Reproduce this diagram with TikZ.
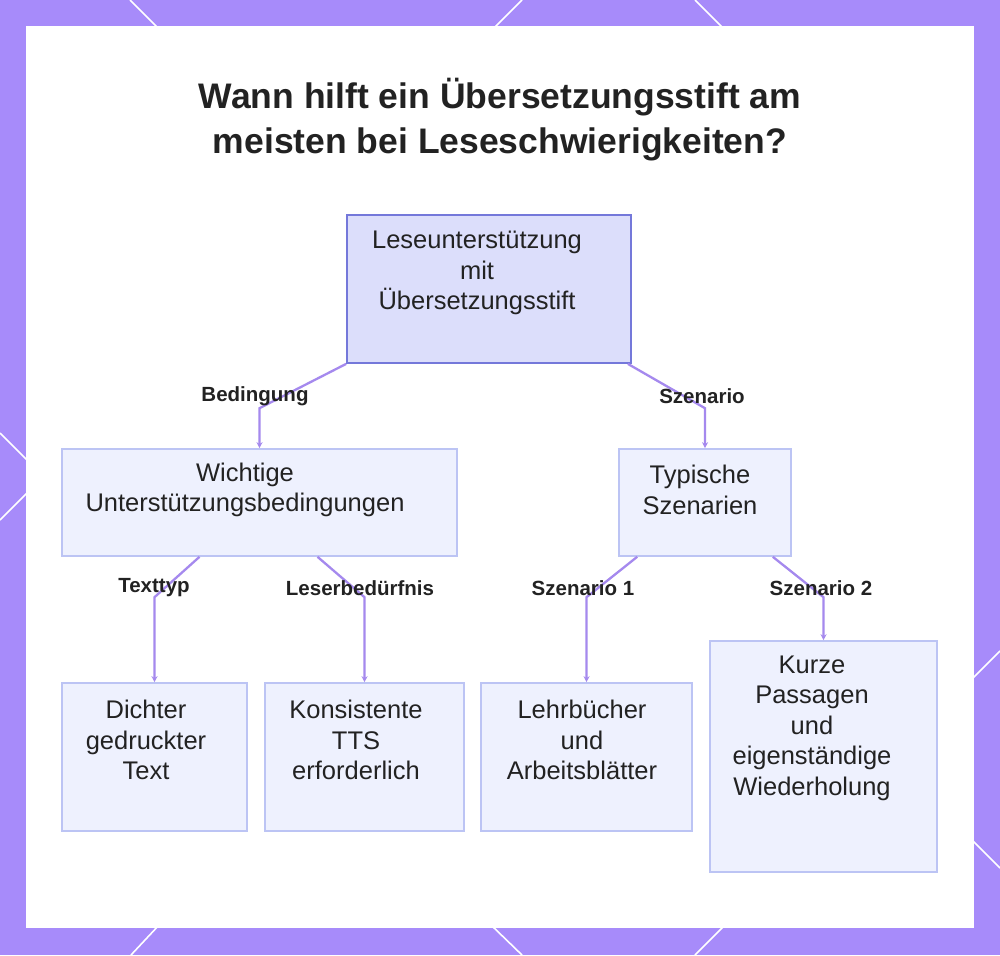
\documentclass[tikz,border=0pt]{standalone}
\usepackage{fontspec}
\setmainfont{Liberation Sans}
\usetikzlibrary{arrows.meta,positioning}
\definecolor{framec}{HTML}{A78BFA}
\definecolor{rootfill}{HTML}{DCDEFB}
\definecolor{rootline}{HTML}{7478DA}
\definecolor{boxfill}{HTML}{EEF1FE}
\definecolor{boxline}{HTML}{BCC4F4}
\definecolor{ink}{HTML}{222222}
\definecolor{connc}{HTML}{A589EE}

\begin{document}
\begin{tikzpicture}[x=1pt, y=-1pt,
    topbox/.style={draw=rootline, fill=rootfill, line width=1.8pt, inner sep=0pt},
    subbox/.style={draw=boxline, fill=boxfill, line width=1.6pt, inner sep=0pt},
    txt/.style={align=center, text=ink, font=\fontsize{25.5}{30.5}\selectfont, inner sep=0pt},
    lbl/.style={text=ink, font=\bfseries\fontsize{20.5}{24}\selectfont, inner sep=0pt},
    conn/.style={draw=connc, line width=2.3pt, -{Stealth[length=6pt,width=6pt]}},
    deco/.style={white, line width=1.6pt}]
  \useasboundingbox (0,0) rectangle (1000,955);
  \fill[framec] (0,0) rectangle (1000,955);
  \draw[deco] (130,0) -- (160,30);
  \draw[deco] (492,30) -- (522,0);
  \draw[deco] (695,0) -- (725,30);
  \draw[deco] (160,924) -- (131,955);
  \draw[deco] (490,924) -- (522,955);
  \draw[deco] (726,924) -- (695,955);
  \draw[deco] (0,433) -- (30,463);
  \draw[deco] (30,490) -- (0,520);
  \draw[deco] (970,681) -- (1000,651);
  \draw[deco] (970,838) -- (1000,868);
  \fill[white] (26,26) rectangle (974,928);

  \node[txt, font=\bfseries\fontsize{35.5}{45}\selectfont] (title) at (500,120)
    {Wann hilft ein Übersetzungsstift am\\meisten bei Leseschwierigkeiten?};

  \node[topbox, minimum width=284pt, minimum height=148pt] (lese) at (489,289) {};
  \node[subbox, minimum width=395pt, minimum height=107pt] (wichtig) at (259.5,502.5) {};
  \node[subbox, minimum width=172pt, minimum height=107pt] (typisch) at (705,502.5) {};
  \node[subbox, minimum width=185pt, minimum height=148pt] (dichter) at (154.5,757) {};
  \node[subbox, minimum width=199pt, minimum height=148pt] (konsist) at (364.5,757) {};
  \node[subbox, minimum width=211pt, minimum height=148pt] (lehrb) at (586.5,757) {};
  \node[subbox, minimum width=227pt, minimum height=231pt] (kurz) at (823.5,756.5) {};

  \node[txt] at (477,273) {Leseunterstützung\\mit\\Übersetzungsstift};
  \node[txt] at (245,490) {Wichtige\\Unterstützungsbedingungen};
  \node[txt] at (700,490) {Typische\\Szenarien};
  \node[txt] at (146,740) {Dichter\\gedruckter\\Text};
  \node[txt] at (356,740) {Konsistente\\TTS\\erforderlich};
  \node[txt] at (582,740) {Lehrbücher\\und\\Arbeitsblätter};
  \node[txt] at (812,728) {Kurze\\Passagen\\und\\eigenständige\\Wiederholung};

  \draw[conn] (lese.south west) -- ([yshift=40pt]wichtig.north) -- (wichtig.north);
  \draw[conn] ([xshift=-4pt]lese.south east) -- ([yshift=40pt]typisch.north) -- (typisch.north);
  \draw[conn] ([xshift=-60pt]wichtig.south) -- ([yshift=85pt]dichter.north) -- (dichter.north);
  \draw[conn] ([xshift=58pt]wichtig.south) -- ([yshift=85pt]konsist.north) -- (konsist.north);
  \draw[conn] ([xshift=19pt]typisch.south west) -- ([yshift=85pt]lehrb.north) -- (lehrb.north);
  \draw[conn] ([xshift=-19pt]typisch.south east) -- ([yshift=43pt]kurz.north) -- (kurz.north);

  \node[lbl] (l1) at (255,396) {Bedingung};
  \node[lbl] (l2) at (702,396) {Szenario};
  \node[lbl] (l3) at (154,588) {Texttyp};
  \node[lbl] (l4) at (360,588) {Leserbedürfnis};
  \node[lbl] (l5) at (583,588) {Szenario 1};
  \node[lbl] (l6) at (821,588) {Szenario 2};
\end{tikzpicture}
\end{document}
